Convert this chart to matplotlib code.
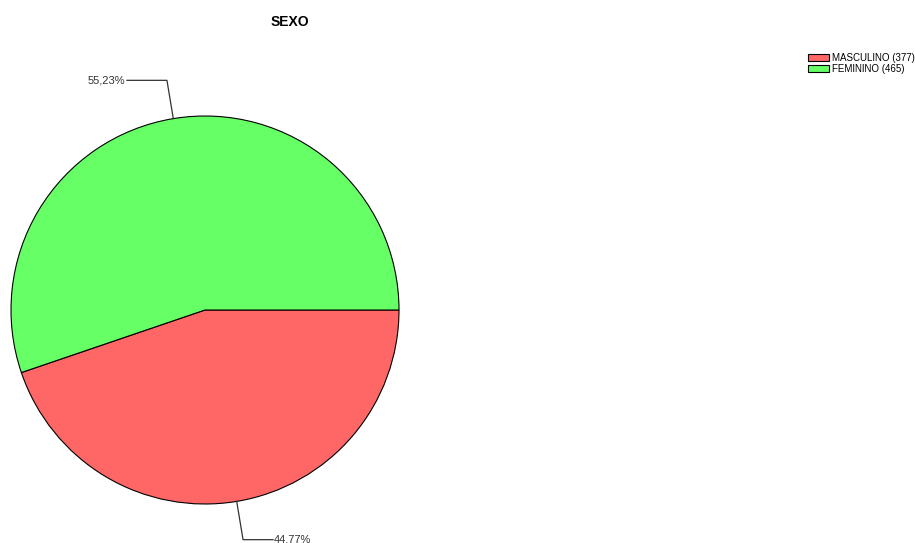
import matplotlib.pyplot as plt
import numpy as np

plt.rcParams['font.family'] = ['Liberation Sans', 'DejaVu Sans']

# data
categories = ["MASCULINO", "FEMININO"]
counts = [377, 465]
pct_labels = ["44.77%", "55,23%"]
colors = ["#FF6666", "#66FF66"]

W, H = 915, 543
fig = plt.figure(figsize=(W / 100, H / 100), dpi=100)
ax = fig.add_axes([0, 0, 1, 1])

cx, cy, R = 205, H - 310, 194
wedges, _ = ax.pie(counts, colors=colors, startangle=0, counterclock=False,
                   center=(cx, cy), radius=R, frame=True,
                   wedgeprops=dict(edgecolor="black", linewidth=0.8))
ax.set_xlim(0, W)
ax.set_ylim(0, H)
ax.set_aspect("equal")
ax.axis("off")

# leader lines with labels
for w, lab in zip(wedges, pct_labels):
    mid = np.deg2rad((w.theta1 + w.theta2) / 2)
    x0, y0 = cx + R * np.cos(mid), cy + R * np.sin(mid)
    x1, y1 = cx + 1.2 * R * np.cos(mid), cy + 1.2 * R * np.sin(mid)
    if np.cos(mid) < 0:
        x2, ha, tx = x1 - 40, "right", x1 - 42
    else:
        x2, ha, tx = x1 + 30, "left", x1 + 31
    ax.plot([x0, x1, x2], [y0, y1, y1], color="#333333", lw=0.9)
    ax.text(tx, y1, lab, ha=ha, va="center", fontsize=8, color="#333333")

fig.text(290 / W, 1 - 22 / H, "SEXO", ha="center", va="center",
         fontsize=10, fontweight="bold")

handles = [plt.Rectangle((0, 0), 1, 1, facecolor=c, edgecolor="black", lw=0.8) for c in colors]
leg_labels = [f"{c} ({n})" for c, n in zip(categories, counts)]
fig.legend(handles, leg_labels, loc="upper left", bbox_to_anchor=(808 / W, 1 - 53 / H),
           frameon=False, fontsize=7, handlelength=2.2, handleheight=0.8,
           handletextpad=0.3, labelspacing=0.1, borderaxespad=0, borderpad=0)

fig.savefig("out.png", dpi=100)
